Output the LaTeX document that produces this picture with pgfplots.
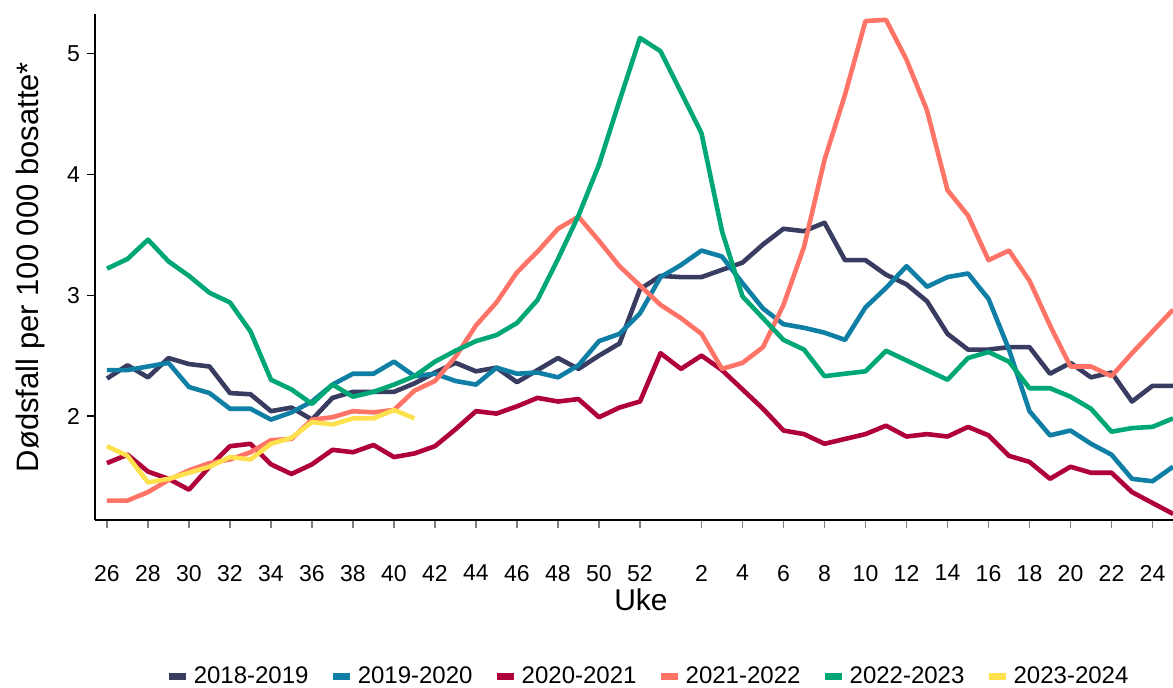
\documentclass[border=0pt]{standalone}
\usepackage{fontspec}
\setmainfont{Liberation Sans}
\usepackage{pgfplots}
\usepackage{pgfplotstable}
\pgfplotsset{compat=1.18}

\definecolor{c1819}{HTML}{393C61}
\definecolor{c1920}{HTML}{0F7FA5}
\definecolor{c2021}{HTML}{B0003A}
\definecolor{c2122}{HTML}{FF7467}
\definecolor{c2223}{HTML}{00A776}
\definecolor{c2324}{HTML}{FFE14E}

% i = season week index (0 = week 26, 26 = week 52, 27 = week 53, 28 = week 1, ..., 52 = week 25)
\pgfplotstableread{
i  a    b    c    d    e
0  2.31 2.38 1.61 1.30 3.22
1  2.42 2.38 1.68 1.30 3.30
2  2.32 2.41 1.54 1.37 3.46
3  2.48 2.44 1.48 1.47 3.28
4  2.43 2.24 1.39 1.55 3.16
5  2.41 2.19 1.58 1.61 3.02
6  2.19 2.06 1.75 1.64 2.94
7  2.18 2.06 1.77 1.70 2.70
8  2.04 1.97 1.60 1.80 2.30
9  2.07 2.03 1.52 1.81 2.22
10 1.97 2.12 1.60 1.97 2.10
11 2.15 2.26 1.72 1.99 2.26
12 2.20 2.35 1.70 2.04 2.16
13 2.20 2.35 1.76 2.03 2.20
14 2.20 2.45 1.66 2.05 2.26
15 2.27 2.33 1.69 2.21 2.33
16 2.36 2.35 1.75 2.29 2.45
17 2.44 2.29 1.89 2.49 2.54
18 2.37 2.26 2.04 2.75 2.62
19 2.40 2.40 2.02 2.94 2.67
20 2.28 2.35 2.08 3.19 2.77
21 2.38 2.36 2.15 3.36 2.96
22 2.48 2.32 2.12 3.55 3.30
23 2.39 2.42 2.14 3.65 3.66
24 2.50 2.62 1.99 3.45 4.08
25 2.60 2.68 2.07 3.24 4.61
26 3.05 2.85 2.12 3.08 5.13
27 3.16 3.15 2.52 2.92 5.02
28 3.15 3.25 2.39 2.81 4.68
29 3.15 3.37 2.50 2.68 4.34
30 3.21 3.32 2.38 2.39 3.53
31 3.27 3.10 2.22 2.44 2.99
32 3.42 2.89 2.06 2.57 2.81
33 3.55 2.76 1.88 2.92 2.63
34 3.53 2.73 1.85 3.40 2.55
35 3.60 2.69 1.77 4.12 2.33
36 3.29 2.63 1.81 4.66 2.35
37 3.29 2.90 1.85 5.27 2.37
38 3.17 3.06 1.92 5.28 2.54
39 3.09 3.24 1.83 4.95 2.46
40 2.95 3.07 1.85 4.53 2.38
41 2.68 3.15 1.83 3.87 2.30
42 2.55 3.18 1.91 3.66 2.48
43 2.55 2.97 1.84 3.29 2.53
44 2.57 2.55 1.67 3.37 2.45
45 2.57 2.04 1.62 3.12 2.23
46 2.35 1.84 1.48 2.75 2.23
47 2.44 1.88 1.58 2.41 2.16
48 2.32 1.77 1.53 2.41 2.06
49 2.36 1.68 1.53 2.33 1.87
50 2.12 1.48 1.37 2.52 1.90
51 2.25 1.46 1.28 2.70 1.91
52 2.25 1.58 1.19 2.88 1.98
}\seasons

\pgfplotstableread{
i  f
0  1.75
1  1.67
2  1.45
3  1.48
4  1.53
5  1.58
6  1.66
7  1.64
8  1.77
9  1.82
10 1.95
11 1.93
12 1.98
13 1.98
14 2.05
15 1.98
}\current

\begin{document}
\begin{tikzpicture}
\useasboundingbox (-47.5pt,-83.5pt) rectangle (539pt,260pt);
\begin{axis}[
  at={(0pt,0pt)}, anchor=south west,
  width=539pt, height=253pt, scale only axis,
  xmin=-0.585, xmax=52, ymin=1.139, ymax=5.328,
  axis x line*=bottom, axis y line*=left,
  axis line style={line width=1.2pt, black},
  xtick={0,2,4,6,8,10,12,14,16,18,20,22,24,26,29,31,33,35,37,39,41,43,45,47,49,51},
  xticklabels={26,28,30,32,34,36,38,40,42,44,46,48,50,52,2,4,6,8,10,12,14,16,18,20,22,24},
  ytick={2,3,4,5},
  tick align=outside,
  major tick length=4pt,
  x tick style={gray, line width=0.6pt},
  y tick style={black, line width=0.6pt},
  tick label style={font=\fontsize{11.5}{12}\selectfont},
  /pgf/number format/assume math mode=true,
  xticklabel style={yshift=-15pt},
  xlabel={Uke},
  xlabel style={at={(axis description cs:0.5065,-0.158)}, anchor=center, font=\fontsize{15}{18}\selectfont},
  ylabel={Dødsfall per 100 000 bosatte*},
  ylabel style={at={(axis description cs:-0.0594,0.5)}, anchor=center, font=\fontsize{15.5}{18}\selectfont},
  legend style={at={(axis description cs:0.514,-0.310)}, anchor=center, draw=none, fill=none,
    font=\fontsize{12}{14}\selectfont, /tikz/every even column/.append style={column sep=8.6pt}},
  legend columns=6,
  legend image code/.code={\draw[#1, line width=3.5pt] (0pt,0pt) -- (8.5pt,0pt);},
  every axis plot/.append style={line width=2.3pt, no markers, line join=round},
]
\addplot[c1819] table[x=i, y=a] {\seasons};
\addlegendentry{2018-2019}
\addplot[c1920] table[x=i, y=b] {\seasons};
\addlegendentry{2019-2020}
\addplot[c2021] table[x=i, y=c] {\seasons};
\addlegendentry{2020-2021}
\addplot[c2122] table[x=i, y=d] {\seasons};
\addlegendentry{2021-2022}
\addplot[c2223] table[x=i, y=e] {\seasons};
\addlegendentry{2022-2023}
\addplot[c2324] table[x=i, y=f] {\current};
\addlegendentry{2023-2024}
\end{axis}
\end{tikzpicture}
\end{document}
